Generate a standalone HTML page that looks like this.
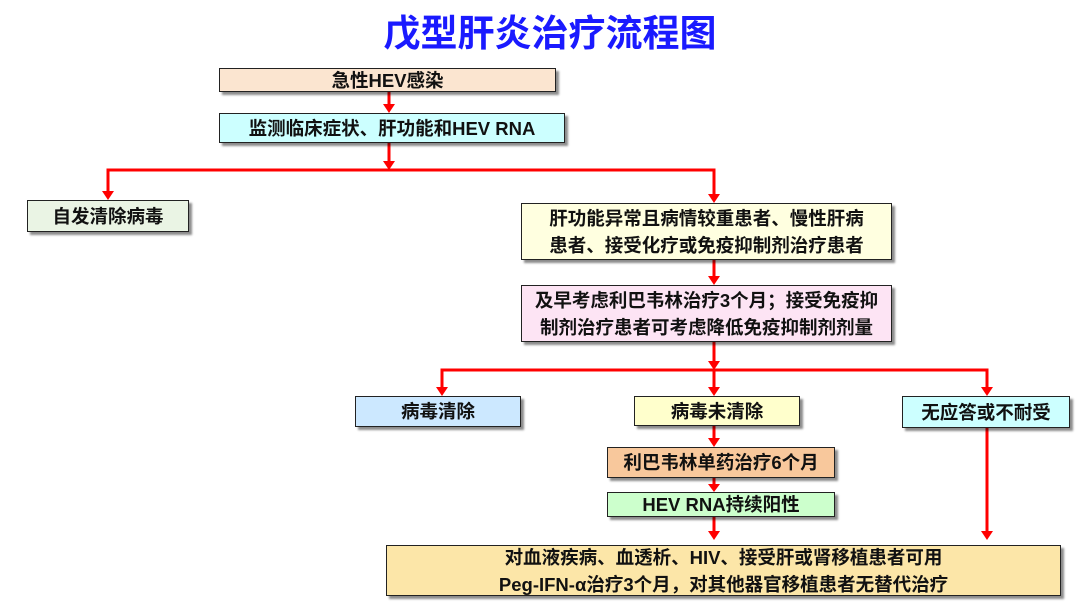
<!DOCTYPE html>
<html><head><meta charset="utf-8"><style>
body{margin:0;width:1080px;height:609px;background:#fff;position:relative;overflow:hidden;font-family:"Liberation Sans","Noto Sans CJK SC",sans-serif;}
.t{position:absolute;left:0;width:1100px;top:3px;text-align:center;font-size:37px;font-weight:bold;color:#1a1aff;}
.b{position:absolute;box-sizing:border-box;border:1.5px solid #222;box-shadow:3px 3px 2px rgba(0,0,0,.45);display:flex;align-items:center;justify-content:center;text-align:center;font-weight:bold;font-size:18.5px;color:#111;line-height:27px;white-space:nowrap;}
svg{position:absolute;left:0;top:0;}
</style></head><body>
<div class="t">戊型肝炎治疗流程图</div>
<svg width="1080" height="609">
<g stroke="#f00" stroke-width="3" fill="none">
<line x1="389" y1="92" x2="389" y2="105"/>
<line x1="389" y1="143" x2="389" y2="162"/>
<polyline points="108,192 108,170 714,170 714,195"/>
<line x1="714" y1="260" x2="714" y2="277"/>
<line x1="714" y1="342" x2="714" y2="362"/>
<polyline points="442,388 442,370 987,370 987,388"/>
<line x1="714" y1="370" x2="714" y2="388"/>
<line x1="714" y1="426" x2="714" y2="440"/>
<line x1="714" y1="478" x2="714" y2="485"/>
<line x1="714" y1="517" x2="714" y2="532"/>
<line x1="987" y1="428" x2="987" y2="532"/>
</g>
<g fill="#f00">
<path d="M383,104 L395,104 L389,113z"/>
<path d="M383,161 L395,161 L389,170z"/>
<path d="M102,191 L114,191 L108,200z"/>
<path d="M708,194 L720,194 L714,203z"/>
<path d="M708,276 L720,276 L714,285z"/>
<path d="M708,361 L720,361 L714,370z"/>
<path d="M436,387 L448,387 L442,396z"/>
<path d="M708,387 L720,387 L714,396z"/>
<path d="M981,387 L993,387 L987,396z"/>
<path d="M708,438 L720,438 L714,447z"/>
<path d="M708,484 L720,484 L714,492z"/>
<path d="M708,531 L720,531 L714,540z"/>
<path d="M981,531 L993,531 L987,540z"/>
</g>
</svg>
<div class="b" style="left:219px;top:68px;width:337px;height:24px;background:#fbe5d0">急性HEV感染</div>
<div class="b" style="left:219px;top:113px;width:346px;height:30px;background:#ccffff">监测临床症状、肝功能和HEV RNA</div>
<div class="b" style="left:27px;top:200px;width:162px;height:32px;background:#eaf4e4">自发清除病毒</div>
<div class="b" style="left:521px;top:203px;width:371px;height:57px;background:#ffffe0">肝功能异常且病情较重患者、慢性肝病<br>患者、接受化疗或免疫抑制剂治疗患者</div>
<div class="b" style="left:521px;top:285px;width:371px;height:57px;background:#fde4f4">及早考虑利巴韦林治疗3个月；接受免疫抑<br>制剂治疗患者可考虑降低免疫抑制剂剂量</div>
<div class="b" style="left:355px;top:396px;width:166px;height:31px;background:#cce8ff">病毒清除</div>
<div class="b" style="left:634px;top:396px;width:166px;height:30px;background:#ffffcc">病毒未清除</div>
<div class="b" style="left:902px;top:396px;width:168px;height:32px;background:#ccffff">无应答或不耐受</div>
<div class="b" style="left:607px;top:447px;width:228px;height:31px;background:#f8c89c">利巴韦林单药治疗6个月</div>
<div class="b" style="left:607px;top:492px;width:228px;height:25px;background:#ccffcc">HEV RNA持续阳性</div>
<div class="b" style="left:386px;top:545px;width:675px;height:51px;background:#fce6a8">对血液疾病、血透析、HIV、接受肝或肾移植患者可用<br>Peg-IFN-α治疗3个月，对其他器官移植患者无替代治疗</div>
</body></html>
